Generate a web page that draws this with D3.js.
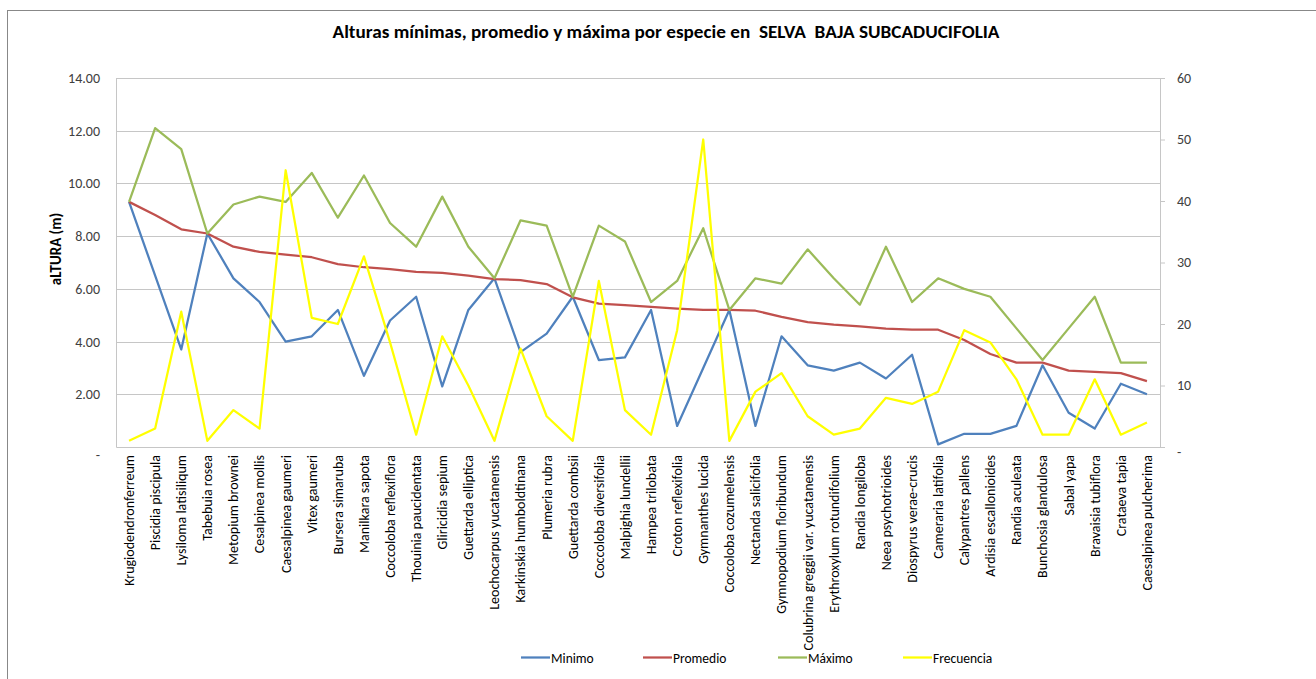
<!DOCTYPE html>
<html><head><meta charset="utf-8">
<script src="https://cdn.jsdelivr.net/npm/d3@7"></script>
<style>
body{margin:0;background:#fff;}
text{font-family:Calibri,Carlito,Lato,"Open Sans",sans-serif;}
</style></head>
<body><svg id="c" width="1316" height="679"></svg>
<script>
const categories = ["Krugiodendronferreum","Piscidia piscipula","Lysiloma latisiliqum","Tabebuia rosea","Metopium brownei","Cesalpinea mollis","Caesalpinea gaumeri","Vitex gaumeri","Bursera simaruba","Manilkara sapota","Coccoloba reflexiflora","Thouinia paucidentata","Gliricidia sepium","Guettarda elliptica","Leochocarpus yucatanensis","Karkinskia humboldtinana","Plumeria rubra","Guettarda combsii","Coccoloba diversifolia","Malpighia lundellii","Hampea trilobata","Croton reflexifolia","Gymnanthes lucida","Coccoloba cozumelensis","Nectanda salicifolia","Gymnopodium floribundum","Colubrina greggii var.  yucatanensis","Erythroxylum rotundifolium","Randia longiloba","Neea psychotrioides","Diospyrus verae-crucis","Cameraria latifolia","Calypantres pallens","Ardisia escallonioides","Randia aculeata","Bunchosia glandulosa","Sabal yapa","Bravaisia tubiflora","Crataeva tapia","Caesalpinea pulcherima"];
const minimo = [9.3,6.5,3.7,8.1,6.4,5.5,4.0,4.2,5.2,2.7,4.8,5.7,2.3,5.2,6.4,3.6,4.3,5.7,3.3,3.4,5.2,0.8,3.0,5.2,0.8,4.2,3.1,2.9,3.2,2.6,3.5,0.1,0.5,0.5,0.8,3.1,1.3,0.7,2.4,2.0];
const promedio = [9.3,8.8,8.26,8.1,7.6,7.4,7.3,7.2,6.94,6.82,6.75,6.64,6.61,6.5,6.37,6.33,6.18,5.68,5.44,5.38,5.32,5.25,5.2,5.2,5.17,4.94,4.74,4.64,4.58,4.49,4.45,4.45,4.06,3.53,3.2,3.2,2.9,2.85,2.8,2.5];
const maximo = [9.3,12.1,11.3,8.1,9.2,9.5,9.3,10.4,8.7,10.3,8.5,7.6,9.5,7.6,6.4,8.6,8.4,5.7,8.4,7.8,5.5,6.3,8.3,5.2,6.4,6.2,7.5,6.4,5.4,7.6,5.5,6.4,6.0,5.7,4.5,3.3,4.5,5.7,3.2,3.2];
const frecuencia = [1,3,22,1,6,3,45,21,20,31,17,2,18,10,1,16,5,1,27,6,2,19,50,1,9,12,5,2,3,8,7,9,19,17,11,2,2,11,2,4];
const leftTicks = [0,2,4,6,8,10,12,14];
const rightTicks = [0,10,20,30,40,50,60];
const seriesNames = ["Minimo","Promedio","Máximo","Frecuencia"];
const seriesColors = ["#4F81BD","#C0504D","#9BBB59","#FFFF00"];

const svg = d3.select("#c");
const L=116, R=1160, T=78, B=447;
svg.append("rect").attr("x",7.5).attr("y",10.5).attr("width",1320).attr("height",700)
  .attr("fill","none").attr("stroke","#888").attr("stroke-width",1);

const x = d3.scaleBand().domain(categories).range([L,R]);
const yL = d3.scaleLinear().domain([0,14]).range([B,T]);
const yR = d3.scaleLinear().domain([0,60]).range([B,T]);
const cx = d => x(d)+x.bandwidth()/2;

svg.append("g").selectAll("line").data(leftTicks.filter(d=>d>0)).join("line")
  .attr("x1",L).attr("x2",R).attr("y1",d=>Math.round(yL(d))+0.5).attr("y2",d=>Math.round(yL(d))+0.5)
  .attr("stroke","#c6c6c6").attr("stroke-width",1);

const FF = "Calibri,Carlito,Lato,sans-serif";
const la = svg.append("g").attr("transform",`translate(${L},0)`)
  .call(d3.axisLeft(yL).tickValues(leftTicks).tickSize(0).tickPadding(16)
    .tickFormat(d=>d===0?"-":d3.format(".2f")(d)));
la.select(".domain").attr("stroke","#c6c6c6");
la.selectAll("text").attr("font-size",14).attr("fill","#404040").attr("font-family",FF);
la.selectAll(".tick").filter(d=>d===0).select("text").attr("dy","0.9em");

const ra = svg.append("g").attr("transform",`translate(${R},0)`)
  .call(d3.axisRight(yR).tickValues(rightTicks).tickSize(5).tickPadding(12)
    .tickFormat(d=>d===0?"-":d));
ra.select(".domain").attr("stroke","#c6c6c6");
ra.selectAll("line").attr("stroke","#c6c6c6");
ra.selectAll("text").attr("font-size",14).attr("fill","#404040").attr("font-family",FF);
ra.selectAll(".tick").filter(d=>d===0).select("text").attr("dy","0.7em");

const ba = svg.append("g").attr("transform",`translate(0,${B})`)
  .call(d3.axisBottom(x).tickSize(0).tickPadding(0));
ba.select(".domain").attr("stroke","#c6c6c6");
ba.selectAll("text").attr("font-size",14).attr("fill","#000").attr("font-family",FF)
  .attr("text-anchor","end").attr("dy","0.35em")
  .attr("transform","translate(0,8) rotate(-90)").attr("x",0).attr("y",0);

const lineL = d3.line().x((d,i)=>cx(categories[i])).y(d=>yL(d));
const lineR = d3.line().x((d,i)=>cx(categories[i])).y(d=>yR(d));
[minimo,promedio,maximo].forEach((s,k)=>{
  svg.append("path").attr("d",lineL(s)).attr("fill","none")
    .attr("stroke",seriesColors[k]).attr("stroke-width",2.25).attr("stroke-linejoin","round");
});
svg.append("path").attr("d",lineR(frecuencia)).attr("fill","none")
  .attr("stroke",seriesColors[3]).attr("stroke-width",2.25).attr("stroke-linejoin","round");

svg.append("text").attr("x",666).attr("y",38).attr("text-anchor","middle")
  .attr("font-size",17).attr("font-weight","bold").attr("fill","#000")
  .attr("textLength",667).attr("lengthAdjust","spacingAndGlyphs")
  .style("white-space","pre")
  .text("Alturas mínimas, promedio y máxima por especie en  SELVA  BAJA SUBCADUCIFOLIA");

svg.append("text").attr("transform","translate(61,249) rotate(-90)").attr("text-anchor","middle")
  .attr("font-size",15).attr("font-weight","bold").attr("fill","#000").text("aLTURA (m)");

const legX = [521,643,778,903];
const leg = svg.append("g");
seriesNames.forEach((n,i)=>{
  leg.append("line").attr("x1",legX[i]).attr("x2",legX[i]+29).attr("y1",657.5).attr("y2",657.5)
    .attr("stroke",seriesColors[i]).attr("stroke-width",2.25);
  leg.append("text").attr("x",legX[i]+30).attr("y",662.5).attr("font-size",13.5).attr("fill","#000").text(n);
});
</script></body></html>
